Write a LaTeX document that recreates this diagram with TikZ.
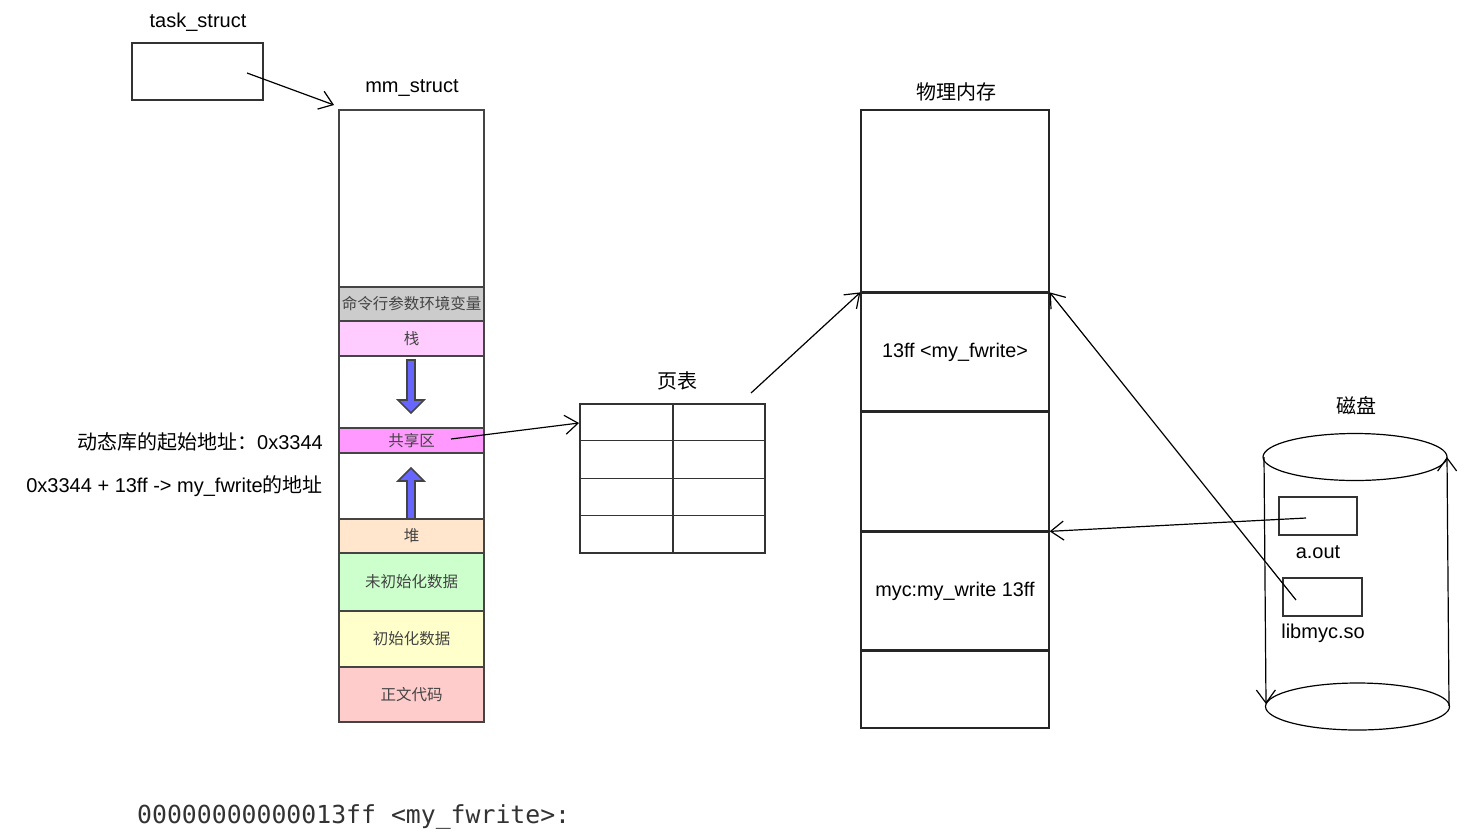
\documentclass[tikz,border=0pt]{standalone}
\usepackage{fontspec}
\setmainfont{Liberation Sans}
\setmonofont{DejaVu Sans Mono}
\newfontfamily\cjk{Noto Sans CJK SC}
\usetikzlibrary{arrows.meta}
\definecolor{edge}{HTML}{444444}
\definecolor{cmdgray}{HTML}{CCCCCC}
\definecolor{stackc}{HTML}{FFCCFF}
\definecolor{sharec}{HTML}{FF99FF}
\definecolor{heapc}{HTML}{FFE6CC}
\definecolor{bssc}{HTML}{CCFFCC}
\definecolor{datac}{HTML}{FFFFCC}
\definecolor{textc}{HTML}{FFCCCC}
\definecolor{bluearrow}{HTML}{6666FF}
\tikzset{
  lbl/.style={font=\fontsize{20}{20}\selectfont, inner sep=0pt},
  cjklbl/.style={font=\cjk\fontsize{20}{20}\selectfont, inner sep=0pt},
  cell/.style={draw=edge, line width=1.6pt, inner sep=0pt, minimum width=145, text=edge, font=\cjk\fontsize{15.5}{15.5}\selectfont},
  pmcell/.style={draw=black!85, line width=1.3pt, inner sep=0pt, minimum width=188, font=\fontsize{19.8}{19.8}\selectfont},
  box/.style={draw=black!80, line width=1.4pt, inner sep=0pt},
  conn/.style={line width=1.2pt, -{Straight Barb[length=13pt,width=19pt,line width=1.2pt]}},
  fatarrow/.style={fill=bluearrow, draw=edge, line width=1.6pt, line join=miter},
}
\begin{document}
\begin{tikzpicture}[x=1pt,y=-1pt]
\useasboundingbox (0,0) rectangle (1474,839);
% task_struct
\node[lbl] (tslbl) at (198,22) {task\_struct};
\node[box, minimum width=131, minimum height=57] (ts) at (197.5,71.5) {};
\coordinate (tsin) at (247,73);
% mm_struct
\node[lbl] (mmlbl) at (412,88.5) {mm\_struct};
\node[cell, minimum height=177] (top) at (411.5,198.5) {};
\node[cell, fill=cmdgray, minimum height=34] (cmd) at (411.5,304) {命令行参数环境变量};
\node[cell, fill=stackc, minimum height=35] (stack) at (411.5,338.5) {栈};
\node[cell, minimum height=72] (gapa) at (411.5,392) {};
\node[cell, fill=sharec, minimum height=25] (share) at (411.5,440.5) {共享区};
\node[cell, minimum height=66] (gapb) at (411.5,486) {};
\node[cell, fill=heapc, minimum height=34] (heap) at (411.5,536) {堆};
\node[cell, fill=bssc, minimum height=58] (bss) at (411.5,582) {未初始化数据};
\node[cell, fill=datac, minimum height=56] (data) at (411.5,639) {初始化数据};
\node[cell, fill=textc, minimum height=55] (code) at (411.5,694.5) {正文代码};
\coordinate (mmtop) at (334,105);
\draw[conn] (tsin) -- (mmtop);
% fat arrows
\draw[fatarrow] (407,360) -- (415,360) -- (415,400) -- (424,400) -- (411,413) -- (398,400) -- (407,400) -- cycle;
\draw[fatarrow] (407,519) -- (415,519) -- (415,481) -- (424,481) -- (411,468) -- (398,481) -- (407,481) -- cycle;
% left notes
\node[inner sep=0pt, anchor=east, font=\fontsize{20}{20}\selectfont] (note1) at (323,442) {{\cjk 动态库的起始地址：}0x3344};
\node[inner sep=0pt, anchor=east, font=\fontsize{20}{20}\selectfont] (note2) at (323,486) {0x3344 + 13ff -> my\_fwrite{\cjk 的地址}};
% page table
\node[cjklbl] (ptlbl) at (677,381) {页表};
\node[box, minimum width=185, minimum height=149] (pt) at (672.5,478.5) {};
\draw[line width=1.4pt, black!80] (pt.north) ++(0.5,0) -- ++(0,149);
\draw[line width=1.4pt, black!80] (pt.north west) ++(0,37) -- ++(185,0);
\draw[line width=1.4pt, black!80] (pt.north west) ++(0,75) -- ++(185,0);
\draw[line width=1.4pt, black!80] (pt.north west) ++(0,112) -- ++(185,0);
\coordinate (shin) at (451,439);
\coordinate (ptin) at (579,423);
\draw[conn] (shin) -- (ptin);
% physical memory
\node[cjklbl] (pmlbl) at (956,92) {物理内存};
\node[pmcell, minimum height=182] (pm0) at (955,201) {};
\node[pmcell, minimum height=119] (pm1) at (955,352.5) {13ff <my\_fwrite>};
\node[pmcell, minimum height=120] (pm2) at (955,471) {};
\node[pmcell, minimum height=119] (pm3) at (955,591.5) {myc:my\_write 13ff};
\node[pmcell, minimum height=78] (pm4) at (955,689) {};
\coordinate (ptout) at (751,393);
\draw[conn] (ptout) -- (pm1.north west);
% disk
\node[cjklbl] (disklbl) at (1356,406) {磁盘};
\draw[line width=1.2pt] (1355,457) ellipse [x radius=92, y radius=23.5];
\draw[line width=1.2pt] (1357.5,706.5) ellipse [x radius=92, y radius=23.5];
\coordinate (dl1) at (1264,457);
\coordinate (dl2) at (1266,704);
\coordinate (dr1) at (1449,706);
\coordinate (dr2) at (1447,457);
\draw[conn] (dl1) -- (dl2);
\draw[conn] (dr1) -- (dr2);
\node[box, minimum width=78, minimum height=38] (aout) at (1318,516) {};
\node[lbl] (aoutlbl) at (1318,552) {a.out};
\node[box, minimum width=79, minimum height=38] (lib) at (1322.5,597) {};
\node[lbl] (liblbl) at (1323,633) {libmyc.so};
\coordinate (aoutin) at (1306,518);
\coordinate (libin) at (1296,600);
\draw[conn] (aoutin) -- (pm3.north east);
\draw[conn] (libin) -- (pm1.north east);
% bottom
\node[inner sep=0pt, anchor=west, text=black!80, font=\ttfamily\fontsize{24.8}{24.8}\selectfont] (objdump) at (137,817) {00000000000013ff <my\_fwrite>:};
\end{tikzpicture}
\end{document}
